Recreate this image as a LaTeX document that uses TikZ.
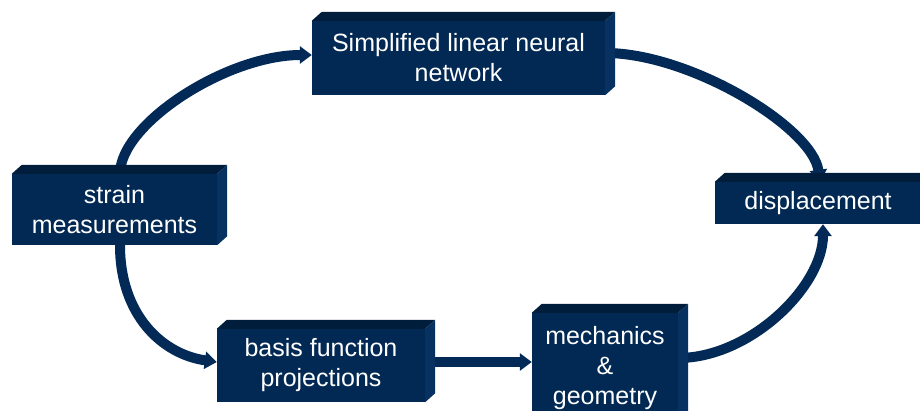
\documentclass[tikz,border=0pt]{standalone}
\usepackage{fontspec}
\setmainfont{Liberation Sans}
\usetikzlibrary{arrows.meta}
\definecolor{frontc}{RGB}{2,41,84}
\definecolor{topc}{RGB}{1,29,60}
\definecolor{sidec}{RGB}{6,49,96}
\definecolor{arrc}{RGB}{3,41,86}
\newcommand{\mkdepth}[1]{%
  \fill[topc] (#1.north west) -- ++(10,9) -- ([shift={(10,9)}]#1.north east) -- (#1.north east) -- cycle;
  \fill[sidec] (#1.north east) -- ++(10,9) -- ([shift={(10,9)}]#1.south east) -- (#1.south east) -- cycle;
}
\tikzset{
  blockbox/.style={rectangle, fill=frontc, text=white, align=center, inner sep=0pt,
    font=\fontsize{25}{30}\selectfont},
  flowarrow/.style={draw=arrc, line width=10pt, -{Triangle[width=17pt,length=12pt]}, arrc}
}
\begin{document}
\begin{tikzpicture}[x=1pt,y=1pt]
\useasboundingbox (0,0) rectangle (920,411);
\clip (0,0) rectangle (920,411);
% nodes (placed first for naming; redrawn on top later)
\path
  node[blockbox, minimum width=205pt, minimum height=71pt] (s) at (114.5,201.5) {}
  node[blockbox, minimum width=293pt, minimum height=74pt] (n) at (458.5,353) {}
  node[blockbox, minimum width=206pt, minimum height=42pt] (d) at (818,208) {}
  node[blockbox, minimum width=208pt, minimum height=73pt] (b) at (321,45.5) {}
  node[blockbox, minimum width=146pt, minimum height=110pt] (m) at (605,43) {};
% connectors
\draw[flowarrow] ([xshift=5.5pt]s.north) to[out=90,in=180,out distance=50pt,in distance=85pt] ([yshift=3pt]n.west);
\draw[flowarrow] ([yshift=5pt]n.east) to[out=0,in=98,out distance=85pt,in distance=55pt] ([xshift=2pt]d.north);
\draw[flowarrow] ([yshift=10pt]m.east) to[out=0,in=-90,out distance=72pt,in distance=62pt] ([xshift=5pt]d.south);
\draw[flowarrow] ([xshift=5.5pt]s.south) to[out=-90,in=172,out distance=70pt,in distance=55pt] ([yshift=3.5pt]b.west);
\draw[flowarrow] ([yshift=3.5pt]b.east) -- ([yshift=6pt]m.west);
% boxes on top
\node[blockbox, minimum width=205pt, minimum height=71pt] at (s) {strain\\measurements};
\mkdepth{s}
\node[blockbox, minimum width=293pt, minimum height=74pt] at (n) {Simplified linear neural\\network};
\mkdepth{n}
\node[blockbox, minimum width=206pt, minimum height=42pt] at (d) {displacement};
\mkdepth{d}
\node[blockbox, minimum width=208pt, minimum height=73pt] at (b) {basis function\\projections};
\mkdepth{b}
\node[blockbox, minimum width=146pt, minimum height=110pt] at (m) {mechanics\\\&\\geometry};
\mkdepth{m}
\end{tikzpicture}
\end{document}
